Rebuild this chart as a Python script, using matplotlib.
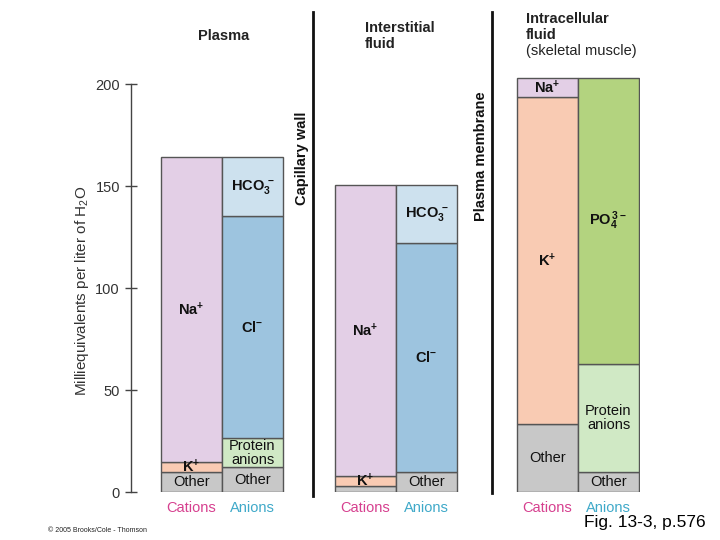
import matplotlib
matplotlib.use("Agg")
import matplotlib.pyplot as plt
from matplotlib.lines import Line2D
from matplotlib import font_manager

plt.rcParams['font.family'] = ['Liberation Sans', 'DejaVu Sans']
plt.rcParams['mathtext.fontset'] = 'custom'
plt.rcParams['mathtext.rm'] = 'Liberation Sans'
plt.rcParams['mathtext.bf'] = 'Liberation Sans:bold'
plt.rcParams['mathtext.default'] = 'regular'

# ---------------- data (mEq / L H2O) ----------------
compartments = ["Plasma", "Interstitial\nfluid", "Intracellular\nfluid"]
cation_other = [9.8, 3.0, 33.3]
cation_K = [5.0, 4.8, 160.2]
cation_Na = [149.2, 142.7, 9.5]
anion_other = [12.2, 10.0, 9.6]
anion_protein = [14.2, 0.0, 53.1]
anion_Cl = [108.9, 112.0, 0.0]
anion_HCO3 = [28.7, 28.5, 0.0]
anion_PO4 = [0.0, 0.0, 140.3]
yticks = [0, 50, 100, 150, 200]

# ---------------- styling ----------------
C_NA = "#e3cfe6"
C_K = "#f9cbb3"
C_OTHER = "#c8c8c8"
C_HCO3 = "#cde1ee"
C_CL = "#9dc4df"
C_PROT = "#d0e9c5"
C_PO4 = "#b3d37f"
EDGE = "#555555"

W, H = 720, 540
fig = plt.figure(figsize=(W / 100, H / 100), dpi=100)
YMAX = 204
px_per_unit = (492 - 84) / 200
ax_l, ax_r, ax_b = 131, 640, 492
ax_t = ax_b - YMAX * px_per_unit
ax = fig.add_axes([ax_l / W, 1 - ax_b / H, (ax_r - ax_l) / W, (ax_b - ax_t) / H])
ax.set_xlim(0, ax_r - ax_l)
ax.set_ylim(0, YMAX)

group_centers = [91, 265, 447]
bw = 61

cation_stack = [
    (cation_other, C_OTHER, "Other", False),
    (cation_K, C_K, r"K$^{+}$", True),
    (cation_Na, C_NA, r"Na$^{+}$", True),
]
anion_stack = [
    (anion_other, C_OTHER, "Other", False),
    (anion_protein, C_PROT, "Protein\nanions", False),
    (anion_Cl, C_CL, r"Cl$^{-}$", True),
    (anion_HCO3, C_HCO3, r"HCO$_3^{\,-}$", True),
    (anion_PO4, C_PO4, r"PO$_4^{\,3-}$", True),
]


def draw_stack(stack, xs):
    for i, x in enumerate(xs):
        bottom = 0.0
        for vals, col, lab, bold in stack:
            v = vals[i]
            if v <= 0:
                continue
            ax.bar(x, v, width=bw, bottom=bottom, color=col, edgecolor=EDGE,
                   linewidth=1.0, zorder=2)
            if v >= 4.5:
                ax.text(x, bottom + v / 2, lab, ha="center", va="center",
                        fontsize=10.5, fontweight="bold" if bold else "normal",
                        color="#111111", linespacing=1.0, zorder=3)
            bottom += v


cat_x = [c - bw / 2 for c in group_centers]
an_x = [c + bw / 2 for c in group_centers]
draw_stack(cation_stack, cat_x)
draw_stack(anion_stack, an_x)

# axis styling
for s in ["top", "right", "bottom"]:
    ax.spines[s].set_visible(False)
ax.spines["left"].set_color("#444444")
ax.spines["left"].set_linewidth(1.0)
ax.spines["left"].set_bounds(0, 200)
ax.set_xticks([])
ax.set_yticks(yticks)
ax.tick_params(axis="y", direction="inout", length=8, width=1.0,
               colors="#444444", labelsize=10.5, pad=4)
for t in ax.get_yticklabels():
    t.set_color("#333333")
ax.set_ylabel(r"Milliequivalents per liter of H$_2$O", fontsize=11,
              color="#333333")
ax.yaxis.set_label_coords(-(131 - 91) / (ax_r - ax_l), (492 - 291) / (ax_b - ax_t))

# category labels under the bars
for x in cat_x:
    ax.text(x, -4.5, "Cations", ha="center", va="top", fontsize=10.5,
            color="#d6408f")
for x in an_x:
    ax.text(x, -4.5, "Anions", ha="center", va="top", fontsize=10.5,
            color="#3fa9c9")


def fx(px):
    return px / W


def fy(py):
    return 1 - py / H


# separators
fig.add_artist(Line2D([fx(313), fx(313)], [fy(12), fy(496)], color="#111111", lw=2))
fig.add_artist(Line2D([fx(492), fx(492)], [fy(12), fy(493)], color="#111111", lw=2))
fig.text(fx(302), fy(158), "Capillary wall", rotation=90, ha="center", va="center",
         fontsize=10.5, fontweight="bold", color="#111111")
fig.text(fx(481), fy(156), "Plasma membrane", rotation=90, ha="center", va="center",
         fontsize=10.5, fontweight="bold", color="#111111")

# compartment titles
fig.text(fx(224), fy(36), compartments[0], ha="center", va="center",
         fontsize=10.5, fontweight="bold", color="#222222")
fig.text(fx(365), fy(36), compartments[1], ha="left", va="center",
         fontsize=10.5, fontweight="bold", color="#222222", linespacing=1.2)
fig.text(fx(526), fy(27), compartments[2], ha="left", va="center",
         fontsize=10.5, fontweight="bold", color="#222222", linespacing=1.2)
fig.text(fx(526), fy(51), "(skeletal muscle)", ha="left", va="center",
         fontsize=10.5, color="#222222")

# footer
narrow = [f for f in ["Liberation Sans Narrow", "Liberation Sans"]
          if any(f == e.name for e in font_manager.fontManager.ttflist)]
fig.text(fx(706), fy(523), "Fig. 13-3, p.576", ha="right", va="center",
         fontsize=12.5, color="#000000", family=narrow + ["DejaVu Sans"])
fig.text(fx(48), fy(530), "\u00a9 2005 Brooks/Cole - Thomson", ha="left", va="center",
         fontsize=5, color="#222222")

fig.savefig("out.png", dpi=100, facecolor="white")
